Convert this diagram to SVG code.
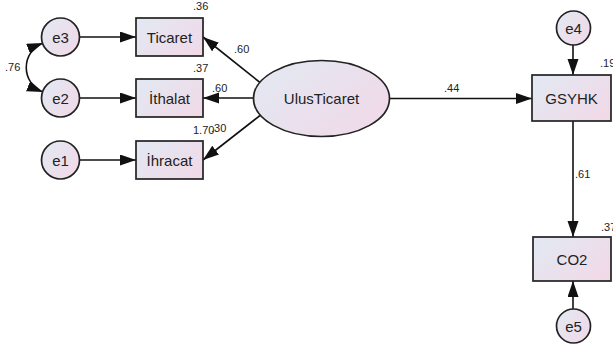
<svg xmlns="http://www.w3.org/2000/svg" width="613" height="349" viewBox="0 0 613 349">
<defs>
<linearGradient id="g" x1="0" y1="0.2" x2="1" y2="0.8">
<stop offset="0" stop-color="#e3e8f2"/>
<stop offset="1" stop-color="#f1d9e8"/>
</linearGradient>
<marker id="ah" markerUnits="userSpaceOnUse" markerWidth="17" markerHeight="12" refX="16" refY="5.5" orient="auto-start-reverse" viewBox="0 0 17 12">
<path d="M0,0 L16,5.5 L0,11 z" fill="#111"/>
</marker>
</defs>
<style>
.n{fill:url(#g);stroke:#222;stroke-width:1.7}
.t{font-family:"Liberation Sans",Arial,sans-serif;font-size:15px;fill:#222;text-anchor:middle;dominant-baseline:central}
.s{font-family:"Liberation Sans",Arial,sans-serif;font-size:11px;fill:#222}
.c{fill:none;stroke:#111;stroke-width:1.6;marker-end:url(#ah)}
</style>
<rect width="613" height="349" fill="#fff"/>
<g id="connectors">
<line class="c" x1="79.5" y1="37" x2="136" y2="37"/>
<line class="c" x1="79.5" y1="98" x2="136" y2="98"/>
<line class="c" x1="79.5" y1="160" x2="136" y2="160"/>
<path class="c" d="M43,43 A26.3,26.3 0 0 0 43,92" style="marker-start:url(#ah)"/>
<line class="c" x1="260" y1="82.5" x2="203" y2="37"/>
<line class="c" x1="253.5" y1="98" x2="203" y2="98"/>
<line class="c" x1="260" y1="115.5" x2="203" y2="160"/>
<line class="c" x1="389.5" y1="98.5" x2="532" y2="98.5"/>
<line class="c" x1="573" y1="45" x2="573" y2="75"/>
<line class="c" x1="573" y1="121" x2="573" y2="237"/>
<line class="c" x1="573" y1="309" x2="573" y2="281"/>
<text class="s" x="5" y="71">.76</text>
<text class="s" x="234" y="53">.60</text>
<text class="s" x="212" y="92">.60</text>
<text class="s" x="193" y="134">1.70</text>
<text class="s" x="211" y="132">.30</text>
<text class="s" x="444" y="92">.44</text>
<text class="s" x="575" y="178">.61</text>
</g>
<g id="e3"><circle class="n" cx="60.5" cy="37" r="19"/><text class="t" x="60.5" y="37">e3</text></g>
<g id="e2"><circle class="n" cx="60.5" cy="98" r="19"/><text class="t" x="60.5" y="98">e2</text></g>
<g id="e1"><circle class="n" cx="60.5" cy="160" r="19"/><text class="t" x="60.5" y="160">e1</text></g>
<g id="Ticaret"><rect class="n" x="136" y="18" width="67" height="38"/><text class="t" x="169.5" y="37">Ticaret</text><text class="s" x="193" y="10">.36</text></g>
<g id="Ithalat"><rect class="n" x="136" y="79" width="67" height="38"/><text class="t" x="169.5" y="98">İthalat</text><text class="s" x="193" y="72">.37</text></g>
<g id="Ihracat"><rect class="n" x="136" y="141" width="67" height="38"/><text class="t" x="169.5" y="160">İhracat</text></g>
<g id="UlusTicaret"><ellipse class="n" cx="321.5" cy="98.5" rx="68" ry="38"/><text class="t" x="321.5" y="98.5">UlusTicaret</text></g>
<g id="e4"><circle class="n" cx="573.5" cy="28" r="17"/><text class="t" x="573.5" y="28">e4</text></g>
<g id="GSYHK"><rect class="n" x="532" y="75" width="79" height="46"/><text class="t" x="571.5" y="98">GSYHK</text><text class="s" x="600" y="67">.19</text></g>
<g id="CO2"><rect class="n" x="533" y="237" width="78" height="44"/><text class="t" x="572" y="259">CO2</text><text class="s" x="601" y="231">.37</text></g>
<g id="e5"><circle class="n" cx="573.5" cy="326" r="17"/><text class="t" x="573.5" y="326">e5</text></g>
</svg>
